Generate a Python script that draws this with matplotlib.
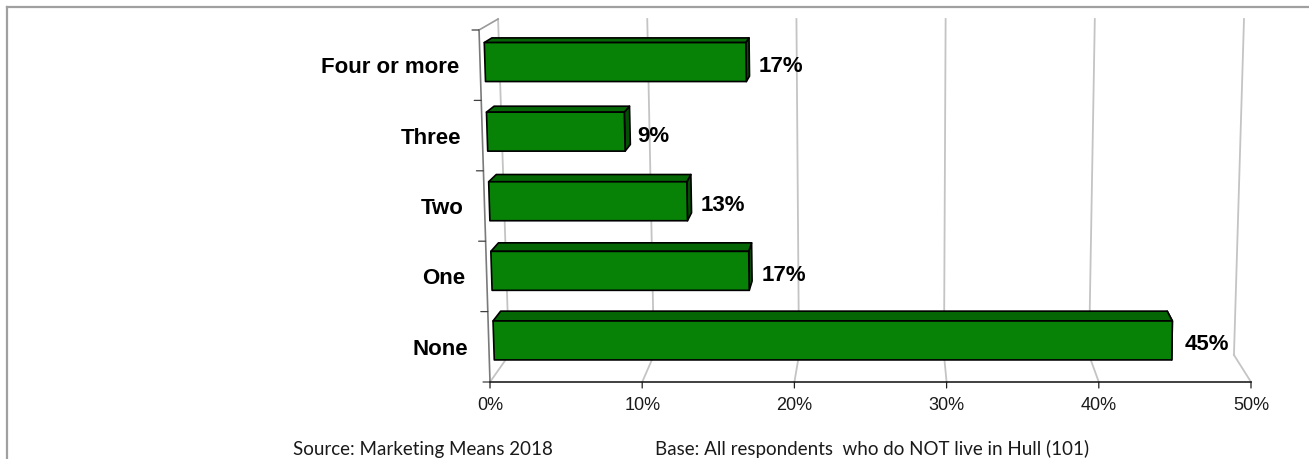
import matplotlib.pyplot as plt
from matplotlib.patches import Polygon
from matplotlib.lines import Line2D

# chart data
categories = ["None", "One", "Two", "Three", "Four or more"]
values = [45, 17, 13, 9, 17]
value_labels = ["45%", "17%", "13%", "9%", "17%"]
tick_values = [0, 10, 20, 30, 40, 50]
tick_labels = ["0%", "10%", "20%", "30%", "40%", "50%"]
source_text = "Source: Marketing Means 2018"
base_text = "Base: All respondents  who do NOT live in Hull (101)"

# pseudo-3D view: corners of the plot box (x in %, row, depth) -> axes units
X_MAX, ROWS = 50, 5
CORNERS = {
    (0, 0, 0): (0.0, 0.0), (1, 0, 0): (50.0, 0.0),
    (0, 1, 0): (-0.72, 5.0), (1, 1, 0): (50.4, 5.0),
    (0, 0, 1): (1.25, 0.384), (1, 0, 1): (48.88, 0.384),
    (0, 1, 1): (0.53, 5.156), (1, 1, 1): (49.54, 5.156),
}
BAR_Z = (0.25, 0.65)
BAR_H = 0.56

FACE = "#078207"
TOP = "#056605"
SIDE = "#034f03"
GRID = "#c4c4c4"


def proj(x, y, z):
    tx, ty = x / X_MAX, y / ROWS
    px = py = 0.0
    for (i, j, k), (cx, cy) in CORNERS.items():
        w = (tx if i else 1 - tx) * (ty if j else 1 - ty) * (z if k else 1 - z)
        px += w * cx
        py += w * cy
    return px, py


def seg(ax, a, b, **kw):
    ax.add_line(Line2D([a[0], b[0]], [a[1], b[1]], **kw))


fig = plt.figure(figsize=(13.09, 4.59), dpi=100)
ax = fig.add_axes([0, 0, 1, 1])
sx, sy = 15.22, 70.4  # pixels per % and per row
ax.set_xlim(-490 / sx, (1309 - 490) / sx)
ax.set_ylim((382 - 459) / sy, 382 / sy)
ax.axis("off")

# back wall + floor gridlines
for t in tick_values:
    seg(ax, proj(t, 0, 1), proj(t, ROWS, 1), color=GRID, lw=1.3, zorder=1)
    seg(ax, proj(t, 0, 0), proj(t, 0, 1), color=GRID, lw=1.3, zorder=1)

# left wall
seg(ax, proj(0, 0, 0), proj(0, ROWS, 0), color="#7a7a7a", lw=1.2, zorder=2)
seg(ax, proj(0, ROWS, 0), proj(0, ROWS, 1), color="#9a9a9a", lw=1.2, zorder=2)
for r in range(ROWS + 1):
    ax.annotate("", xy=proj(0, r, 0), xytext=(-7, 0), textcoords="offset pixels",
                arrowprops=dict(arrowstyle="-", color="#404040", lw=0.9,
                                shrinkA=0, shrinkB=0))

# floor front edge + ticks
seg(ax, proj(0, 0, 0), proj(X_MAX, 0, 0), color="#202020", lw=1.2, zorder=2)
for t, lab in zip(tick_values, tick_labels):
    p = proj(t, 0, 0)
    ax.annotate("", xy=p, xytext=(0, -6), textcoords="offset pixels",
                arrowprops=dict(arrowstyle="-", color="#202020", lw=0.9,
                                shrinkA=0, shrinkB=0))
    ax.annotate(lab, xy=p, xytext=(0, -28), textcoords="offset pixels",
                ha="center", va="baseline", fontsize=13,
                family="Liberation Sans", color="#1a1a1a")

# bars
z1, z2 = BAR_Z
for i, (cat, v, lab) in enumerate(zip(categories, values, value_labels)):
    u0, u1 = i + 0.5 - BAR_H / 2, i + 0.5 + BAR_H / 2
    side = [proj(v, u0, z1), proj(v, u1, z1), proj(v, u1, z2), proj(v, u0, z2)]
    top = [proj(0, u1, z1), proj(v, u1, z1), proj(v, u1, z2), proj(0, u1, z2)]
    front = [proj(0, u0, z1), proj(v, u0, z1), proj(v, u1, z1), proj(0, u1, z1)]
    for pts, col in ((side, SIDE), (top, TOP), (front, FACE)):
        ax.add_patch(Polygon(pts, closed=True, facecolor=col, edgecolor="black",
                             lw=1.2, joinstyle="round", zorder=3))
    ax.annotate(lab, xy=proj(v, i + 0.5, z1), xytext=(13, -10),
                textcoords="offset pixels", ha="left", va="baseline",
                fontsize=16, fontweight="bold", family="Liberation Sans")
    ax.annotate(cat, xy=proj(0, i + 0.5, 0), xytext=(-21, -8),
                textcoords="offset pixels", ha="right", va="baseline",
                fontsize=16, fontweight="bold", family="Liberation Sans")

# footer
fig.text(293 / 1309, 4 / 459, source_text, fontsize=13.5, family="Lato",
         color="#1a1a1a", ha="left", va="baseline")
fig.text(655 / 1309, 4 / 459, base_text, fontsize=13.5, family="Lato",
         color="#1a1a1a", ha="left", va="baseline")

# outer frame (left + top edges visible)
fig.add_artist(Line2D([7 / 1309, 7 / 1309], [0, 1 - 7 / 459],
                      transform=fig.transFigure, color="#a0a0a0", lw=1.6))
fig.add_artist(Line2D([7 / 1309, 1], [1 - 7 / 459, 1 - 7 / 459],
                      transform=fig.transFigure, color="#a0a0a0", lw=1.6))

fig.savefig("out.png", dpi=100)
